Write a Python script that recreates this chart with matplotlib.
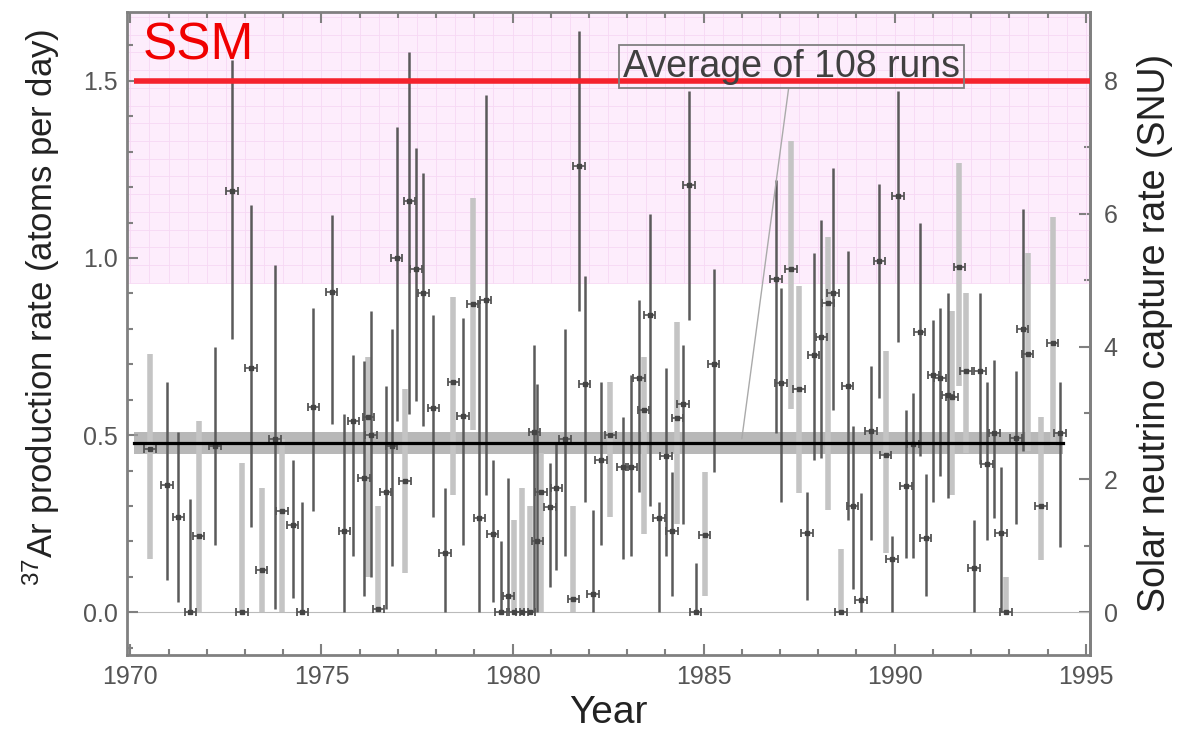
import matplotlib
matplotlib.use("Agg")
import matplotlib.pyplot as plt
import numpy as np
from matplotlib.ticker import MultipleLocator, FixedLocator

plt.rcParams['font.family'] = ['Liberation Sans', 'DejaVu Sans']
plt.rcParams['mathtext.default'] = 'regular'

# run time (years after 1970), production rate and 1-sigma range (atoms/day)
run_year = [0.52, 0.96, 1.26, 1.57, 1.79, 2.22, 2.66, 2.92, 3.16, 3.44, 3.79, 3.97, 4.25, 4.50,
            4.79, 5.27, 5.60, 5.84, 6.12, 6.23, 6.30, 6.49, 6.68, 6.84, 6.97, 7.19, 7.30, 7.47,
            7.67, 7.93, 8.23, 8.45, 8.70, 8.96, 9.13, 9.30, 9.48, 9.70, 9.89, 10.05, 10.25, 10.45,
            10.57, 10.65, 10.74, 10.98, 11.15, 11.37, 11.59, 11.74, 11.89, 12.11, 12.31, 12.56,
            12.88, 13.11, 13.31, 13.43, 13.59, 13.83, 14.01, 14.17, 14.31, 14.46, 14.62, 14.79,
            15.03, 15.26, 16.90, 17.03, 17.29, 17.49, 17.71, 17.88, 18.08, 18.25, 18.38, 18.59,
            18.77, 18.90, 19.12, 19.38, 19.60, 19.76, 19.93, 20.08, 20.30, 20.48, 20.65, 20.81,
            21.01, 21.19, 21.40, 21.50, 21.69, 21.87, 22.08, 22.23, 22.41, 22.61, 22.78, 22.91,
            23.17, 23.35, 23.48, 23.83, 24.13, 24.33]
rate = [0.46, 0.36, 0.27, 0.0, 0.215, 0.47, 1.19, 0.0, 0.69, 0.12, 0.49, 0.285, 0.245, 0.0,
        0.58, 0.905, 0.23, 0.54, 0.38, 0.55, 0.50, 0.01, 0.34, 0.47, 1.0, 0.37, 1.16, 0.97,
        0.90, 0.576, 0.167, 0.65, 0.553, 0.87, 0.265, 0.88, 0.22, 0.0, 0.047, 0.0, 0.0, 0.0,
        0.51, 0.20, 0.34, 0.296, 0.35, 0.49, 0.038, 1.26, 0.645, 0.053, 0.43, 0.50,
        0.41, 0.41, 0.66, 0.57, 0.84, 0.266, 0.44, 0.23, 0.547, 0.587, 1.205, 0.0,
        0.218, 0.70, 0.94, 0.647, 0.97, 0.63, 0.223, 0.726, 0.776, 0.873, 0.90, 0.0,
        0.638, 0.30, 0.034, 0.512, 0.99, 0.443, 0.15, 1.175, 0.355, 0.474, 0.79, 0.21,
        0.67, 0.66, 0.613, 0.607, 0.974, 0.68, 0.126, 0.68, 0.418, 0.506, 0.223, 0.0,
        0.493, 0.80, 0.73, 0.30, 0.76, 0.506]
rate_hi = [0.73, 0.65, 0.51, 0.32, 0.54, 0.75, 1.56, 0.42, 1.15, 0.35, 0.98, 0.49, 0.43, 0.31,
           0.86, 1.12, 0.56, 0.725, 0.71, 0.72, 0.85, 0.30, 0.64, 0.80, 1.37, 0.63, 1.58, 1.31,
           1.24, 0.84, 0.35, 0.89, 0.83, 1.17, 0.88, 1.46, 0.43, 0.20, 0.38, 0.26, 0.35, 0.30,
           0.755, 0.645, 0.45, 0.42, 0.477, 0.80, 0.30, 1.64, 0.95, 0.29, 0.65, 0.65,
           0.55, 0.67, 0.88, 0.72, 1.125, 0.31, 0.69, 0.395, 0.82, 0.755, 1.47, 0.14,
           0.395, 0.97, 1.22, 0.915, 1.33, 0.92, 0.34, 1.015, 1.107, 1.06, 1.254, 0.18,
           1.02, 0.525, 0.336, 0.694, 1.21, 0.738, 0.216, 1.47, 0.57, 0.62, 1.10, 0.39,
           0.826, 0.86, 0.90, 0.85, 1.267, 0.90, 0.26, 0.90, 0.65, 0.713, 0.41, 0.10,
           0.68, 1.137, 1.015, 0.55, 1.116, 0.65]
rate_lo = [0.15, 0.09, 0.03, 0.0, 0.0, 0.19, 0.77, 0.0, 0.24, 0.0, 0.01, 0.0, 0.04, 0.0,
           0.285, 0.53, 0.0, 0.16, 0.045, 0.10, 0.10, 0.0, 0.01, 0.13, 0.54, 0.11, 0.56, 0.595,
           0.525, 0.27, 0.0, 0.33, 0.19, 0.515, 0.0, 0.33, 0.03, 0.0, 0.0, 0.0, 0.0, 0.0,
           0.0, 0.0, 0.0, 0.07, 0.12, 0.16, 0.0, 0.85, 0.31, 0.0, 0.19, 0.27,
           0.15, 0.16, 0.34, 0.22, 0.30, 0.0, 0.16, 0.047, 0.25, 0.25, 0.825, 0.0,
           0.047, 0.395, 0.505, 0.31, 0.575, 0.336, 0.034, 0.43, 0.436, 0.29, 0.57, 0.0,
           0.26, 0.065, 0.0, 0.204, 0.606, 0.166, 0.0, 0.764, 0.153, 0.153, 0.44, 0.047,
           0.31, 0.386, 0.323, 0.33, 0.638, 0.45, 0.0, 0.418, 0.204, 0.267, 0.0, 0.0,
           0.248, 0.455, 0.455, 0.147, 0.468, 0.185]

mean_rate = 0.478
mean_band = (0.447, 0.508)
ssm_rate = 1.5
ssm_band_low = 0.93
snu_ticks = [0, 2, 4, 6, 8]

# runs drawn with the wide light-grey bars
light_runs = {0, 4, 7, 9, 11, 19, 21, 25, 31, 33, 39, 40, 41, 44, 48, 53, 57, 62, 66,
              70, 71, 75, 77, 83, 93, 94, 95, 101, 104, 105, 106}

years = 1970 + np.array(run_year)
rate = np.array(rate)
hi = np.array(rate_hi)
lo = np.array(rate_lo)

fig = plt.figure(figsize=(11.78, 7.30), dpi=100)
ax = fig.add_axes([0.108, 0.103, 0.817, 0.881])
ax.set_xlim(1969.92, 1995.1)
ax.set_ylim(-0.12, 1.695)

# pink SSM region with faint grid
ax.axhspan(ssm_band_low, 1.8, color='#fdedfc', zorder=0, lw=0)
gx = np.arange(1970, 1995.1, 0.5)
gy = np.arange(ssm_band_low, 1.7, 0.05)
ax.vlines(gx, ssm_band_low, 1.7, color='#f7d8f4', lw=0.6, zorder=0.5)
ax.hlines(gy, 1969.92, 1995.1, color='#f7d8f4', lw=0.6, zorder=0.5)

ax.axhline(0, color='#bbbbbb', lw=0.8, zorder=1)

# mean band and line
ax.fill_between([1970.1, 1994.4], mean_band[0], mean_band[1], color='#a0a0a0', alpha=0.75,
                lw=0, zorder=2)
ax.plot([1970.1, 1994.4], [mean_rate, mean_rate], color='black', lw=2.3, zorder=6)

# error bars
for i in range(len(years)):
    if i in light_runs:
        ax.vlines(years[i], lo[i], hi[i], color='#c4c4c4', lw=4, zorder=3)
    else:
        ax.vlines(years[i], lo[i], hi[i], color='#5a5a5a', lw=1.8, zorder=4)
ax.errorbar(years, rate, xerr=0.15, fmt='s', ms=3.5, color='#444444', ecolor='#555555',
            elinewidth=1.2, capsize=3, capthick=1.3, zorder=5)

# SSM line and label
ax.plot([1970.1, 1995.1], [ssm_rate, ssm_rate], color='#f5222d', lw=4, zorder=7,
        solid_capstyle='butt')
ax.text(1970.32, 1.597, 'SSM', color='#f00000', fontsize=37, ha='left', va='center', zorder=8)

# annotation
ax.annotate('Average of 108 runs', xy=(1986.0, 0.49), xytext=(1987.3, 1.54),
            fontsize=27, color='#404040', ha='center', va='center', zorder=8,
            bbox=dict(boxstyle='square,pad=0.1', fc='none', ec='#808080', lw=1.3),
            arrowprops=dict(arrowstyle='-', color='#aaaaaa', lw=1.0, shrinkA=0, shrinkB=0))

# axes styling
for s in ax.spines.values():
    s.set_color('#808080')
    s.set_linewidth(2)
ax.xaxis.set_major_locator(MultipleLocator(5))
ax.xaxis.set_minor_locator(MultipleLocator(1))
ax.yaxis.set_major_locator(MultipleLocator(0.5))
ax.yaxis.set_minor_locator(MultipleLocator(0.1))
ax.yaxis.set_major_formatter(plt.FormatStrFormatter('%.1f'))
ax.tick_params(which='both', direction='in', top=True, right=False, color='#808080',
               labelcolor='#555555', labelsize=18, width=1.5)
ax.tick_params(which='major', length=8, pad=7)
ax.tick_params(which='minor', length=4)

sec = ax.secondary_yaxis('right', functions=(lambda r: r * 16 / 3, lambda s: s * 3 / 16))
sec.yaxis.set_major_locator(FixedLocator(snu_ticks))
sec.yaxis.set_minor_locator(FixedLocator([1, 3, 5, 7]))
sec.tick_params(which='both', direction='in', color='#808080', labelcolor='#555555',
                labelsize=18, width=1.5)
sec.tick_params(which='major', length=8, pad=10)
sec.tick_params(which='minor', length=4)
sec.spines['right'].set_color('#808080')
sec.spines['right'].set_linewidth(2)
sec.set_ylabel('Solar neutrino capture rate (SNU)', fontsize=27, color='#222222', labelpad=14)

ax.set_ylabel('$^{37}$Ar production rate (atoms per day)', fontsize=25, color='#222222')
ax.yaxis.set_label_coords(-0.068, 0.54)
ax.set_xlabel('Year', fontsize=28, color='#222222', labelpad=5)

fig.savefig('out.png', dpi=100)
